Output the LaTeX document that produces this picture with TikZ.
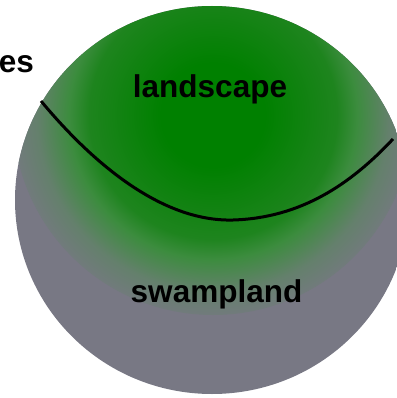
\documentclass[tikz,border=0pt]{standalone}
\usepackage{fontspec}
\setmainfont{Liberation Sans}
\definecolor{swgray}{RGB}{120,120,132}
\definecolor{lgreen}{RGB}{0,128,0}
\definecolor{gA}{RGB}{30,132,30}
\definecolor{gB}{RGB}{60,140,62}
\definecolor{gC}{RGB}{100,128,108}
\pgfdeclareradialshading{lsfade}{\pgfpoint{0bp}{0bp}}{color(0bp)=(lgreen); color(6.5bp)=(lgreen); color(15.5bp)=(gA); color(18bp)=(gB); color(22bp)=(gC); color(26.5bp)=(swgray); color(50bp)=(swgray)}
\tikzset{
  lbl/.style={font=\fontsize{31.5}{36}\selectfont\bfseries, text=black, inner sep=0pt, anchor=base},
  border/.style={line width=3pt, black}
}
\begin{document}
\begin{tikzpicture}[x=1pt,y=-1pt]
\useasboundingbox (0,0) rectangle (396,398);
\begin{scope}
  \clip (212,200) ellipse [x radius=197, y radius=194];
  \fill[swgray] (0,0) rectangle (420,400);
  \shade[shading=lsfade] (213,115) circle [radius=200];
\end{scope}
\coordinate (cl) at (41,101);
\coordinate (cm) at (233,220);
\coordinate (cr) at (393,139);
\draw[border] (cl) .. controls (90,160) and (160,222) .. (cm)
  .. controls (300,218) and (350,185) .. (cr);
\node[lbl] (land) at (210,98) {landscape};
\node[lbl] (swamp) at (216.5,302) {swampland};
\node[lbl, anchor=base east] (es) at (34,73) {es};
\end{tikzpicture}
\end{document}
